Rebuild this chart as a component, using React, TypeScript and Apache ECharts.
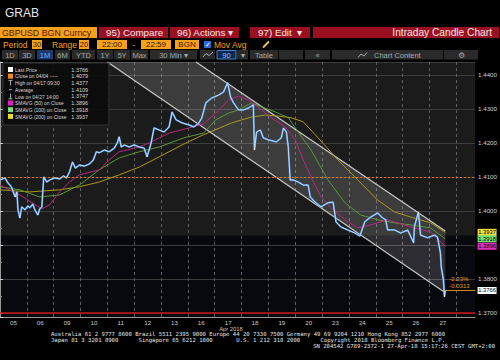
import React, { useEffect, useRef } from "react";
import * as echarts from "echarts";

// ---------- data ----------
const dayLabels = ["05", "06", "09", "10", "11", "12", "13", "16", "17", "18", "19", "20", "23", "24", "25", "26", "27"];
const monthLabel = "Apr 2018";

// [day index (fractional), price]
const price: number[][] = [
  [0.0, 1.4091], [0.19, 1.4097], [0.3, 1.4082], [0.37, 1.4076], [0.44, 1.4068], [0.56, 1.4041], [0.63, 1.4056],
  [0.67, 1.4003], [0.74, 1.3979], [0.81, 1.4012], [0.93, 1.4003], [1.04, 1.4015], [1.11, 1.4009], [1.22, 1.402],
  [1.3, 1.4003], [1.41, 1.3988], [1.48, 1.4006], [1.56, 1.4012], [1.63, 1.41], [1.74, 1.4085], [1.85, 1.4091],
  [2.04, 1.4097], [2.22, 1.4094], [2.37, 1.4103], [2.48, 1.4097], [2.59, 1.4115], [2.7, 1.4144], [2.81, 1.4126],
  [2.96, 1.4135], [3.15, 1.4132], [3.33, 1.4138], [3.48, 1.415], [3.59, 1.4174], [3.7, 1.4171], [3.89, 1.4179],
  [4.07, 1.4174], [4.26, 1.4185], [4.37, 1.42], [4.44, 1.4218], [4.52, 1.4188], [4.63, 1.4194], [4.81, 1.4188],
  [5.0, 1.4194], [5.19, 1.4188], [5.37, 1.4185], [5.48, 1.4159], [5.63, 1.42], [5.74, 1.4244], [5.93, 1.4238],
  [6.11, 1.4232], [6.3, 1.4247], [6.41, 1.4291], [6.56, 1.4268], [6.78, 1.4259], [7.04, 1.4253], [7.22, 1.4247],
  [7.41, 1.4259], [7.52, 1.4274], [7.67, 1.4318], [7.89, 1.4332], [8.15, 1.4341], [8.33, 1.435], [8.48, 1.4377],
  [8.59, 1.4335], [8.7, 1.4318], [8.89, 1.4297], [9.07, 1.4297], [9.26, 1.4303], [9.44, 1.4312], [9.48, 1.4179],
  [9.56, 1.4232], [9.7, 1.4238], [9.81, 1.4215], [10.0, 1.4209], [10.3, 1.4203], [10.48, 1.4215], [10.56, 1.4244],
  [10.67, 1.4232], [10.74, 1.4188], [10.81, 1.4091], [10.93, 1.4091], [11.11, 1.4085], [11.3, 1.4076],
  [11.48, 1.4076], [11.56, 1.4041], [11.74, 1.4026], [11.96, 1.4012], [12.22, 1.4024], [12.41, 1.4026],
  [12.52, 1.3968], [12.7, 1.3953], [12.96, 1.3944], [13.22, 1.3935], [13.41, 1.3926], [13.59, 1.3968],
  [13.81, 1.3982], [14.07, 1.3994], [14.26, 1.3979], [14.37, 1.3974], [14.44, 1.3944], [14.7, 1.3944],
  [14.93, 1.3935], [15.19, 1.3944], [15.41, 1.3906], [15.44, 1.3953], [15.59, 1.3997], [15.67, 1.3929],
  [15.93, 1.3921], [16.19, 1.3929], [16.3, 1.3923], [16.41, 1.3876], [16.44, 1.3835], [16.52, 1.3797],
  [16.56, 1.3747], [16.59, 1.3766],
];

const sma50: number[][] = [
  [0, 1.4076], [0.74, 1.4047], [1.56, 1.4006], [1.85, 1.4018], [2.22, 1.4056], [2.59, 1.4085], [2.96, 1.4106],
  [3.7, 1.4121], [4.07, 1.415], [4.44, 1.4174], [5.19, 1.4188], [5.56, 1.42], [6.3, 1.4229], [7.04, 1.4244],
  [7.59, 1.4256], [8.04, 1.4288], [8.52, 1.4326], [8.89, 1.4338], [9.26, 1.4326], [9.74, 1.4297], [10.11, 1.4274],
  [10.63, 1.4247], [11.0, 1.4209], [11.3, 1.415], [11.59, 1.41], [11.96, 1.4041], [12.33, 1.4009], [12.85, 1.3974],
  [13.33, 1.395], [13.81, 1.3959], [14.44, 1.3974], [15.3, 1.3953], [16.04, 1.3938], [16.59, 1.3896],
];

const sma100: number[][] = [
  [0, 1.4071], [0.74, 1.4062], [1.48, 1.4041], [2.22, 1.4047], [2.96, 1.4076], [3.7, 1.4121], [4.44, 1.4156],
  [5.19, 1.4174], [5.93, 1.4188], [6.85, 1.4215], [7.59, 1.4229], [8.04, 1.4268], [8.52, 1.4288], [8.89, 1.4297],
  [9.37, 1.4318], [9.74, 1.4306], [10.26, 1.4291], [10.74, 1.4274], [11.11, 1.4232], [11.59, 1.4179],
  [12.22, 1.4091], [12.85, 1.4024], [13.44, 1.3988], [14.07, 1.3974], [14.7, 1.3965], [15.3, 1.3959],
  [16.04, 1.395], [16.59, 1.3918],
];

const sma200: number[][] = [
  [0, 1.4062], [1.11, 1.4056], [2.22, 1.4062], [2.96, 1.4071], [3.7, 1.4085], [4.44, 1.4106], [5.19, 1.4129],
  [5.93, 1.4159], [6.78, 1.4194], [7.41, 1.4218], [8.63, 1.4259], [9.37, 1.4276], [9.89, 1.4282], [10.37, 1.4279],
  [10.85, 1.4274], [11.3, 1.4262], [11.85, 1.4215], [12.59, 1.415], [13.33, 1.4091], [14.07, 1.4032],
  [14.7, 1.3997], [15.3, 1.3982], [16.04, 1.3965], [16.59, 1.3937],
];

const channelUpper: number[][] = [[7.3, 1.4438], [16.59, 1.3941]];
const channelLower: number[][] = [[4.0, 1.4438], [16.59, 1.3759]];

const closeRef = 1.4079;
const floorLevel = 1.37;
const shadeSplit = 1.3927;
const lastPrice = 1.3766;
const changePct = "-2.23%";
const changeAbs = "-0.0313";

const legendLabels = [
  "Last Price", "Close on 04/04 -----", "High on 04/17 09:30", "Average",
  "Low on 04/27 14:00", "SMAVG (50) on Close", "SMAVG (100) on Close", "SMAVG (200) on Close",
];
const legendValues = ["1.3766", "1.4079", "1.4377", "1.4109", "1.3747", "1.3896", "1.3918", "1.3937"];

const X_MAX = 17.7;
const Y_MIN = 1.3688;
const Y_MAX = 1.4438;

const FONT = "'Liberation Sans', Arial, sans-serif";
const MONO = "'DejaVu Sans Mono', 'Liberation Mono', monospace";

function txt(x: number, y: number, text: string, fill: string, size: number, align = "left", family = FONT, sx = 1): any {
  return {
    type: "text", x, y, z: 101, silent: true, scaleX: sx,
    style: { text, fill, fontSize: size, fontFamily: family, align, verticalAlign: "middle" },
  };
}
function box(x: number, y: number, w: number, h: number, fill: string, stroke?: string): any {
  return {
    type: "rect", z: 100, silent: true, shape: { x, y, width: w, height: h },
    style: { fill, stroke: stroke || "none", lineWidth: stroke ? 1 : 0 },
  };
}
function seg(x1: number, y1: number, x2: number, y2: number, stroke: string, w = 1): any {
  return { type: "line", z: 101, silent: true, shape: { x1, y1, x2, y2 }, style: { stroke, lineWidth: w } };
}

function tag(value: number, color: string): any {
  return {
    symbol: "rect", symbolSize: [19, 7], symbolOffset: [12, 0], silent: true,
    label: { show: true, position: "inside", color: "#000", fontSize: 5.8, fontFamily: FONT, formatter: (p: any) => Number(p.value).toFixed(4) },
    data: [{ coord: [X_MAX, value], value, itemStyle: { color } }],
  };
}

function buildGraphics(ann: number[]): any[] {
  const g: any[] = [];
  // header
  g.push(txt(5, 13, "GRAB", "#e6e6e6", 12));
  g.push(box(0, 27, 97, 11, "#f5a21b"), txt(2, 32.5, "GBPUSD BGN Curncy", "#5a1200", 9.8, "left", FONT, 0.9));
  g.push(box(99, 27, 69, 11, "#9b1020"), txt(106, 32.5, "95) Compare", "#f2e6e6", 9.8));
  g.push(box(170, 27, 69, 11, "#9b1020"), txt(177, 32.5, "96) Actions ▾", "#f2e6e6", 9.8));
  g.push(box(250, 27, 60, 11, "#9b1020"), txt(258, 32.5, "97) Edit  ▾", "#f2e6e6", 9.8));
  g.push(box(313, 27, 186, 11, "#9b1020"), txt(492, 32.5, "Intraday Candle Chart", "#f2e6e6", 10.2, "right"));
  // row 2
  const OR = "#f5a21b";
  g.push(txt(3, 44.5, "Period", OR, 8.5));
  g.push(box(32, 40, 10, 9, OR), txt(37, 44.5, "30", "#3a1000", 7.5, "center"));
  g.push(txt(52, 44.5, "Range", OR, 8.5));
  g.push(box(79, 40, 10, 9, OR), txt(84, 44.5, "20", "#3a1000", 7.5, "center"));
  g.push(box(97, 40, 30, 9, OR), txt(112, 44.5, "22:00", "#3a1000", 8, "center"));
  g.push(txt(134, 44.5, "-", OR, 8.5, "center"));
  g.push(box(141, 40, 30, 9, OR), txt(156, 44.5, "22:59", "#3a1000", 8, "center"));
  g.push(box(175, 40, 24, 9, OR), txt(187, 44.5, "BGN", "#3a1000", 8, "center"));
  g.push(box(204, 41, 7, 7, "#2a6ad8"), txt(207.5, 44.5, "✓", "#ffffff", 7, "center"));
  g.push(txt(214, 44.5, "Mov Avg", OR, 8.5));
  g.push(seg(263, 47.5, 269, 41.5, "#e8c060", 2));
  // row 3 buttons
  const btns: [number, number, string, boolean][] = [
    [2, 18, "1D", false], [19, 35, "3D", false], [37, 53, "1M", true], [55, 70, "6M", false],
    [72, 95, "YTD", false], [97, 113, "1Y", false], [114, 130, "5Y", false], [131, 148, "Max", false],
    [150, 197, "30 Min ▾", false], [237, 248, "▾", false], [250, 278, "Table", false], [279, 303, "", false],
    [305, 330, "«", false], [444, 478, "⚙", false],
  ];
  btns.forEach(([a, b, t, sel]) => {
    g.push(box(a, 50, b - a, 9.5, sel ? "#1c3a6a" : "#2a2a2a"));
    if (t) g.push(txt((a + b) / 2, 55, t, sel ? "#6aaaff" : "#a8a8a8", 7.5, "center"));
  });
  g.push(box(200, 50, 15, 9.5, "#2a2a2a"));
  g.push({ type: "polyline", z: 101, silent: true, shape: { points: [[203, 57], [206, 53.5], [209, 55.5], [213, 52]] }, style: { stroke: "#b0b0b0", lineWidth: 1, fill: "none" } });
  g.push(box(217, 50.5, 19, 8.5, "#0c2850", "#4a80c0"), txt(226.5, 55, "90", "#9ac0ff", 7.5, "center"));
  g.push(box(332, 50, 111, 9.5, "#2a2a2a"));
  g.push({ type: "polyline", z: 101, silent: true, shape: { points: [[358, 57.5], [361, 54], [364, 56], [367, 52.5]] }, style: { stroke: "#b0b0b0", lineWidth: 1, fill: "none" } });
  g.push(txt(374, 55, "Chart Content", "#a8a8a8", 7.5));

  // legend box
  g.push(box(3, 63, 106, 62, "rgba(10,10,10,0.88)", "#333333"));
  const iconCols = ["#ffffff", "#f08c1a", "", "", "", "#e020c0", "#7fe07f", "#e8e020"];
  legendLabels.forEach((lab, i) => {
    const y = 69.5 + i * 6.7;
    const c = iconCols[i];
    if (c) g.push(box(8, y - 2.5, 5, 5, c));
    else if (i === 2) g.push(seg(10.5, y - 2.5, 10.5, y + 2.5, "#aaaaaa"), seg(8.5, y - 2.5, 12.5, y - 2.5, "#aaaaaa"));
    else if (i === 3) g.push(seg(9, y, 12, y, "#aaaaaa"));
    else g.push(seg(10.5, y - 2.5, 10.5, y + 2.5, "#aaaaaa"), seg(8.5, y + 2.5, 12.5, y + 2.5, "#aaaaaa"));
    g.push(txt(15, y, lab, "#d8d8d8", 6.2, "left", FONT, 0.8));
    g.push(txt(88, y, legendValues[i], "#d8d8d8", 6.2, "right", FONT, 0.88));
  });

  // change annotation near last price
  g.push(txt(ann[0], ann[1] - 11, changePct, "#e8961e", 6));
  g.push(txt(ann[0], ann[1] - 4, changeAbs, "#e8961e", 6));

  // month label
  g.push(txt(231, 328.5, monthLabel, "#c8c8c8", 5.8, "center"));

  // footer
  g.push(txt(51, 333.5, "Australia 61 2 9777 8600 Brazil 5511 2395 9000 Europe 44 20 7330 7500 Germany 49 69 9204 1210 Hong Kong 852 2977 6000", "#e6e6e6", 5.6, "left", MONO));
  g.push(txt(51, 339.5, "Japan 81 3 3201 8900      Singapore 65 6212 1000       U.S. 1 212 318 2000      Copyright 2018 Bloomberg Finance L.P.", "#e6e6e6", 5.6, "left", MONO));
  g.push(txt(495, 345.5, "SN 204542 G789-2372-1 27-Apr-18 15:17:26 CEST GMT+2:00", "#e6e6e6", 5.6, "right", MONO));
  return g;
}

export default function App() {
  const ref = useRef<HTMLDivElement>(null);
  useEffect(() => {
    const chart = echarts.init(ref.current!, null, { renderer: "svg" });
    const last50 = sma50[sma50.length - 1][1];
    const last100 = sma100[sma100.length - 1][1];
    const last200 = sma200[sma200.length - 1][1];
    const lastX = price[price.length - 1][0];
    const option: any = {
      animation: false,
      backgroundColor: "#000000",
      grid: { left: 0, right: 22, top: 62, bottom: 43, containLabel: false },
      xAxis: [
        {
          type: "value", min: 0, max: X_MAX, interval: 0.5,
          axisLine: { show: true, lineStyle: { color: "#9a9a9a" } },
          axisTick: { show: false }, splitLine: { show: false },
          axisLabel: {
            color: "#c8c8c8", fontSize: 6.2, fontFamily: FONT, margin: 2, showMaxLabel: false, showMinLabel: false,
            formatter: (v: number) => {
              const i = Math.floor(v);
              return Math.abs(v - i - 0.5) < 1e-6 && i < dayLabels.length ? dayLabels[i] : "";
            },
          },
        },
        {
          type: "value", min: 0, max: X_MAX, interval: 1, position: "bottom",
          axisLine: { show: false }, axisTick: { show: false }, axisLabel: { show: false },
          splitLine: { show: true, showMinLine: false, showMaxLine: false, lineStyle: { color: "#5e5e5e", type: [3, 3], width: 1 } },
        },
      ],
      yAxis: {
        type: "value", position: "right", min: Y_MIN, max: Y_MAX, splitNumber: 8,
        axisLine: { show: true, lineStyle: { color: "#9a9a9a" } },
        axisTick: { show: true, length: 3, lineStyle: { color: "#cccccc" } },
        minorTick: { show: true, splitNumber: 2, length: 2, lineStyle: { color: "#888888" } },
        splitLine: { show: true, lineStyle: { color: "#3c3c3c", width: 1 } },
        axisLabel: {
          color: "#d0d0d0", fontSize: 6.2, fontFamily: FONT, margin: 3, showMinLabel: false, showMaxLabel: false,
          formatter: (v: number) => {
            const onGrid = Math.abs(v * 100 - Math.round(v * 100)) < 1e-6;
            const covered = Math.abs(v - 1.39) < 1e-6;
            return onGrid && !covered ? v.toFixed(4) : "";
          },
        },
      },
      series: [
        {
          type: "custom", z: -1, silent: true, data: [[0, Y_MIN]], xAxisIndex: 0, yAxisIndex: 0,
          renderItem: (_p: any, api: any) => {
            const tl = api.coord([0, Y_MAX]);
            const mid = api.coord([X_MAX, shadeSplit]);
            const br = api.coord([X_MAX, Y_MIN]);
            return {
              type: "group",
              children: [
                { type: "rect", shape: { x: tl[0], y: tl[1], width: mid[0] - tl[0], height: mid[1] - tl[1] }, style: { fill: "#1b1b1b" } },
                { type: "rect", shape: { x: tl[0], y: mid[1], width: br[0] - tl[0], height: br[1] - mid[1] }, style: { fill: "#08080f" } },
              ],
            };
          },
        },
        {
          type: "custom", z: 1, silent: true, data: [[0, Y_MIN]], xAxisIndex: 0, yAxisIndex: 0,
          renderItem: (_p: any, api: any) => {
            const u0 = api.coord(channelUpper[0]);
            const u1 = api.coord(channelUpper[1]);
            const l0 = api.coord(channelLower[0]);
            const l1 = api.coord(channelLower[1]);
            return {
              type: "group",
              children: [
                { type: "polygon", shape: { points: [l0, u0, u1, l1] }, style: { fill: "rgba(255,255,255,0.15)" } },
                { type: "line", shape: { x1: u0[0], y1: u0[1], x2: u1[0], y2: u1[1] }, style: { stroke: "#c8c8c8", lineWidth: 1.2 } },
                { type: "line", shape: { x1: l0[0], y1: l0[1], x2: l1[0], y2: l1[1] }, style: { stroke: "#c8c8c8", lineWidth: 1.2 } },
              ],
            };
          },
        },
        {
          type: "line", data: sma200, showSymbol: false, symbol: "none", z: 3, silent: true,
          lineStyle: { color: "#a89a20", width: 1 }, markPoint: tag(last200, "#f0e040"),
        },
        {
          type: "line", data: sma100, showSymbol: false, symbol: "none", z: 3, silent: true,
          lineStyle: { color: "#5a983a", width: 1 }, markPoint: tag(last100, "#74e074"),
        },
        {
          type: "line", data: sma50, showSymbol: false, symbol: "none", z: 3, silent: true,
          lineStyle: { color: "#b82880", width: 1 }, markPoint: tag(last50, "#e030c0"),
        },
        {
          type: "line", data: price, showSymbol: false, symbol: "none", z: 4, silent: true,
          lineStyle: { color: "#4f95e0", width: 1.8 },
          markLine: {
            silent: true, symbol: "none", label: { show: false },
            data: [
              { yAxis: closeRef, lineStyle: { color: "#d07a1a", type: [2, 2], width: 1 } },
              { yAxis: floorLevel, lineStyle: { color: "#c81414", type: "solid", width: 1.5 } },
              [{ coord: [lastX, lastPrice], lineStyle: { color: "#d08a20", type: "solid", width: 1 } }, { coord: [X_MAX, lastPrice] }],
            ],
          },
          markPoint: tag(lastPrice, "#ffffff"),
        },
        {
          type: "line", data: price, showSymbol: false, symbol: "none", z: 5, silent: true,
          lineStyle: { color: "#eef4ff", width: 0.7 },
        },
      ],
    };
    chart.setOption(option);
    const ann = chart.convertToPixel({ gridIndex: 0 }, [16.74, lastPrice]) as number[];
    chart.setOption({ graphic: { elements: buildGraphics(ann) } });
    return () => chart.dispose();
  }, []);
  return <div ref={ref} style={{ position: "fixed", left: 0, top: 0, width: 500, height: 360, background: "#000" }} />;
}
